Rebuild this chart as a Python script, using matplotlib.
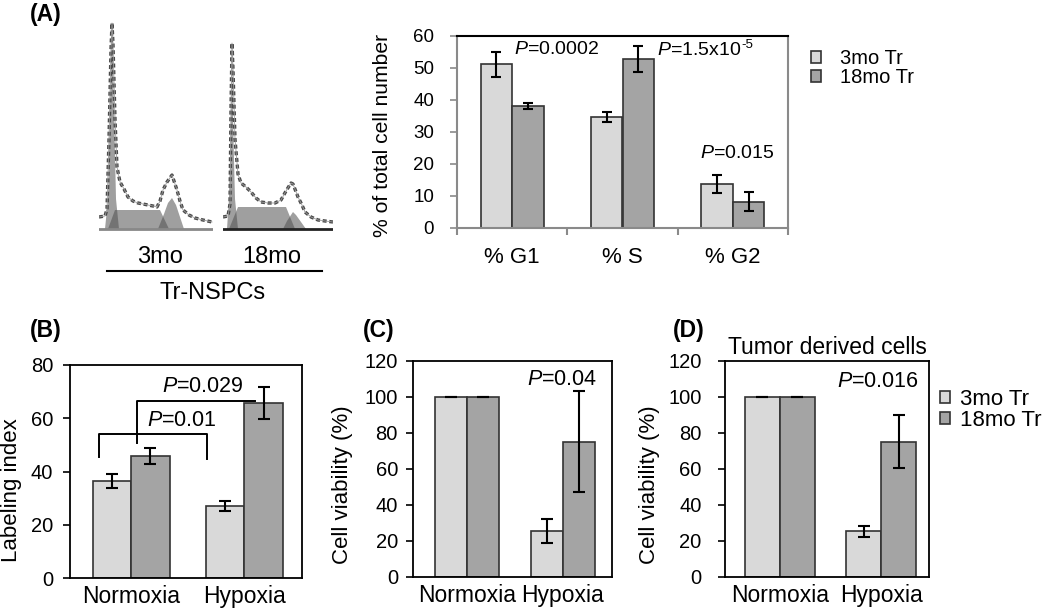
import numpy as np
import matplotlib
matplotlib.use("Agg")
import matplotlib.pyplot as plt
from matplotlib.lines import Line2D

plt.rcParams['font.family'] = ['Liberation Sans', 'DejaVu Sans']
plt.rcParams['mathtext.fontset'] = 'custom'
plt.rcParams['mathtext.rm'] = 'Liberation Sans'
plt.rcParams['mathtext.it'] = 'Liberation Sans:italic'
plt.rcParams['mathtext.bf'] = 'Liberation Sans:bold'

# ---- data ----
groups = ['3mo Tr', '18mo Tr']

# (A) cell cycle
phases = ['% G1', '% S', '% G2']
phase_3mo = [51.1, 34.6, 13.7]
phase_3mo_err = [4.0, 1.6, 2.8]
phase_18mo = [38.1, 52.8, 8.2]
phase_18mo_err = [0.9, 4.2, 2.9]

# (A) DNA content histograms (channel, count)
hist3_ch = [0, 6, 8, 10, 12, 13, 14, 16, 18, 21, 25, 29, 34, 39, 44, 49, 54, 58, 61, 64, 68, 73, 75, 78, 81, 84, 90, 96, 104, 113]
hist3_ct = [12, 13, 20, 90, 180, 206, 185, 110, 62, 47, 40, 32, 28, 26, 25, 24, 23, 22, 28, 39, 47, 54, 48, 39, 28, 19, 14, 11, 9, 7]
hist18_ch = [0, 5, 7, 8, 9, 10, 12, 15, 18, 23, 28, 33, 38, 45, 52, 58, 63, 68, 70, 75, 79, 82, 88, 95, 102, 110]
hist18_ct = [12, 13, 25, 120, 186, 160, 90, 55, 46, 42, 37, 31, 27, 26, 26, 29, 38, 46, 45, 32, 24, 17, 12, 9, 8, 7]
# fitted components: G1, S, G2
fit3_g1 = ([6, 9, 11, 13, 15, 17, 20], [0, 30, 120, 206, 120, 30, 0])
fit3_s = ([9, 16, 61, 70], [0, 19, 19, 0])
fit3_g2 = ([59, 65, 69, 73, 77, 81, 85], [0, 15, 26, 31, 24, 12, 0])
fit18_g1 = ([4, 6, 8, 9, 10, 12, 15], [0, 30, 110, 186, 110, 30, 0])
fit18_s = ([6, 15, 63, 72], [0, 22, 22, 0])
fit18_g2 = ([60, 64, 68, 70, 73, 78, 83], [0, 8, 14, 17, 14, 7, 0])

# (B) labeling index
conds = ['Normoxia', 'Hypoxia']
label_3mo = [36.4, 27.1]
label_3mo_err = [2.5, 2.0]
label_18mo = [45.7, 65.9]
label_18mo_err = [3.0, 6.0]

# (C) cell viability
viab_3mo = [100, 25.4]
viab_3mo_err = [0, 6.6]
viab_18mo = [100, 75.1]
viab_18mo_err = [0, 28.0]

# (D) tumor derived cells
tumor_3mo = [100, 25.4]
tumor_3mo_err = [0, 3.2]
tumor_18mo = [100, 75.1]
tumor_18mo_err = [0, 14.8]

LIGHT = '#d9d9d9'
DARK = '#a4a4a4'
EDGE = '#333333'

W, H = 1050, 608
fig = plt.figure(figsize=(W / 100, H / 100), dpi=100)


def add_ax(x0, y0, x1, y1):
    return fig.add_axes([x0 / W, 1 - y1 / H, (x1 - x0) / W, (y1 - y0) / H])


def fpos(x, y):
    return (x / W, 1 - y / H)


def draw_bars(ax, a, a_err, b, b_err, width, cap):
    x = np.arange(len(a))
    ekw = dict(ecolor='black', elinewidth=1.5, capsize=cap, capthick=1.5)
    h1 = ax.bar(x - width / 2, a, width, yerr=a_err, color=LIGHT, edgecolor=EDGE,
                linewidth=1.2, error_kw=ekw, label=groups[0])
    h2 = ax.bar(x + width / 2, b, width, yerr=b_err, color=DARK, edgecolor=EDGE,
                linewidth=1.2, error_kw=ekw, label=groups[1])
    return h1, h2


def style_box(ax, ypad):
    for s in ax.spines.values():
        s.set_linewidth(1.3)
        s.set_color('black')
    ax.tick_params(axis='y', length=5, width=1.2, labelsize=14.5, pad=ypad)
    ax.tick_params(axis='x', length=0, labelsize=16.5, pad=5)


# ---- (A) histograms ----
def draw_hist(box, ch, ct, fits, base_color):
    ax = add_ax(*box)
    for fx, fy in fits:
        ax.fill(fx, fy, color='#505050', alpha=0.55, lw=0)
    ax.plot(ch, ct, color='#4a4a4a', lw=2.4, ls=(0, (1.2, 0.8)))
    ax.plot(ch, ct, color='#9a9a9a', lw=0.6)
    ax.axhline(0, color=base_color, lw=2)
    ax.set_xlim(0, box[2] - box[0])
    ax.set_ylim(-2, 209)
    ax.axis('off')


draw_hist((99, 20, 213, 231), hist3_ch, hist3_ct, [fit3_g1, fit3_s, fit3_g2], '#888888')
draw_hist((223, 20, 333, 231), hist18_ch, hist18_ct, [fit18_g1, fit18_s, fit18_g2], '#222222')
fig.text(*fpos(160, 257), '3mo', fontsize=17, ha='center', va='center')
fig.text(*fpos(272, 257), '18mo', fontsize=17, ha='center', va='center')
fig.add_artist(Line2D([107 / W, 322 / W], [1 - 271 / H, 1 - 271 / H], color='black', lw=1.5))
fig.text(*fpos(213, 293), 'Tr-NSPCs', fontsize=17, ha='center', va='center')

# ---- (A) bar chart ----
axA = add_ax(457, 36, 788, 228)
hA = draw_bars(axA, phase_3mo, phase_3mo_err, phase_18mo, phase_18mo_err, 0.285, 3.6)
axA.set_xlim(-0.5, 2.5)
axA.set_ylim(0, 60)
axA.set_yticks(range(0, 61, 10))
axA.set_xticks(range(3))
axA.set_xticklabels(phases)
axA.set_xticks([-0.5, 0.5, 1.5, 2.5], minor=True)
for k in ['left', 'bottom', 'right']:
    axA.spines[k].set_color('#8a8a8a')
    axA.spines[k].set_linewidth(1.5)
axA.spines['top'].set_color('black')
axA.spines['top'].set_linewidth(1.5)
axA.tick_params(axis='x', which='major', length=0, labelsize=16, pad=14)
axA.tick_params(axis='x', which='minor', length=5, width=1.5, color='#8a8a8a')
axA.tick_params(axis='y', length=5, width=1.2, color='#8a8a8a', labelsize=13.5, pad=11.5)
axA.set_ylabel('% of total cell number', fontsize=15.2, va='center')
axA.yaxis.set_label_coords(-0.224, 0.484)
axA.text(0.402, 55.9, r'$P$=0.0002', fontsize=14, ha='center', va='center')
tp = axA.text(1.313, 55.6, r'$P$=1.5x10', fontsize=14, ha='left', va='center')
axA.annotate('-5', xy=(1, 0.78), xycoords=tp, ha='left', va='center', fontsize=9.5)
axA.text(2.038, 23.4, r'$P$=0.015', fontsize=14, ha='center', va='center')
axA.legend(handles=hA, loc='upper left', bbox_to_anchor=fpos(811, 49), bbox_transform=fig.transFigure,
           frameon=False, fontsize=14.5, handlelength=0.5, handleheight=0.6, handletextpad=0.95,
           labelspacing=0, borderpad=0, borderaxespad=0)
fig.text(*fpos(30, 15), '(A)', fontsize=16.5, fontweight='bold', ha='left', va='center')

# ---- (B) labeling index ----
axB = add_ax(70, 365, 302, 578)
draw_bars(axB, label_3mo, label_3mo_err, label_18mo, label_18mo_err, 0.34, 4.5)
axB.set_xlim(-0.54, 1.51)
axB.set_ylim(0, 80)
axB.set_yticks(range(0, 81, 20))
axB.set_xticks(range(2))
axB.set_xticklabels(conds)
style_box(axB, 7)
axB.set_ylabel('Labeling index', fontsize=16, va='center')
axB.yaxis.set_label_coords(-0.25, 0.413)
axB.plot([-0.283, -0.283, 0.673, 0.673], [45.5, 54, 54, 44.6], color='black', lw=1.4)
axB.plot([0.053, 0.053, 1.097], [50.6, 66.5, 66.5], color='black', lw=1.4)
axB.text(0.451, 59.3, r'$P$=0.01', fontsize=15.5, ha='center', va='center')
axB.text(0.637, 71.8, r'$P$=0.029', fontsize=15.5, ha='center', va='center')
fig.text(*fpos(30, 330), '(B)', fontsize=16.5, fontweight='bold', ha='left', va='center')

# ---- (C) cell viability ----
axC = add_ax(413, 361, 612, 577)
draw_bars(axC, viab_3mo, viab_3mo_err, viab_18mo, viab_18mo_err, 0.333, 4.5)
axC.set_xlim(-0.56, 1.51)
axC.set_ylim(0, 120)
axC.set_yticks(range(0, 121, 20))
axC.set_xticks(range(2))
axC.set_xticklabels(conds)
style_box(axC, 5.8)
axC.set_ylabel('Cell viability (%)', fontsize=16, va='center')
axC.yaxis.set_label_coords(-0.352, 0.426)
axC.text(0.993, 109.5, r'$P$=0.04', fontsize=15.5, ha='center', va='center')
fig.text(*fpos(363, 330), '(C)', fontsize=16.5, fontweight='bold', ha='left', va='center')

# ---- (D) tumor derived cells ----
axD = add_ax(725, 361, 929, 577)
hD = draw_bars(axD, tumor_3mo, tumor_3mo_err, tumor_18mo, tumor_18mo_err, 0.344, 4.5)
axD.set_xlim(-0.54, 1.47)
axD.set_ylim(0, 120)
axD.set_yticks(range(0, 121, 20))
axD.set_xticks(range(2))
axD.set_xticklabels(conds)
style_box(axD, 12)
axD.set_ylabel('Cell viability (%)', fontsize=16, va='center')
axD.yaxis.set_label_coords(-0.368, 0.426)
axD.set_title('Tumor derived cells', fontsize=16.5, pad=5)
axD.text(0.964, 108.5, r'$P$=0.016', fontsize=15.5, ha='center', va='center')
axD.legend(handles=hD, loc='upper left', bbox_to_anchor=fpos(940, 389), bbox_transform=fig.transFigure,
           frameon=False, fontsize=16, handlelength=0.45, handleheight=0.5, handletextpad=0.45,
           labelspacing=0, borderpad=0, borderaxespad=0)
fig.text(*fpos(673, 330), '(D)', fontsize=16.5, fontweight='bold', ha='left', va='center')

fig.savefig('out.png', dpi=100)
